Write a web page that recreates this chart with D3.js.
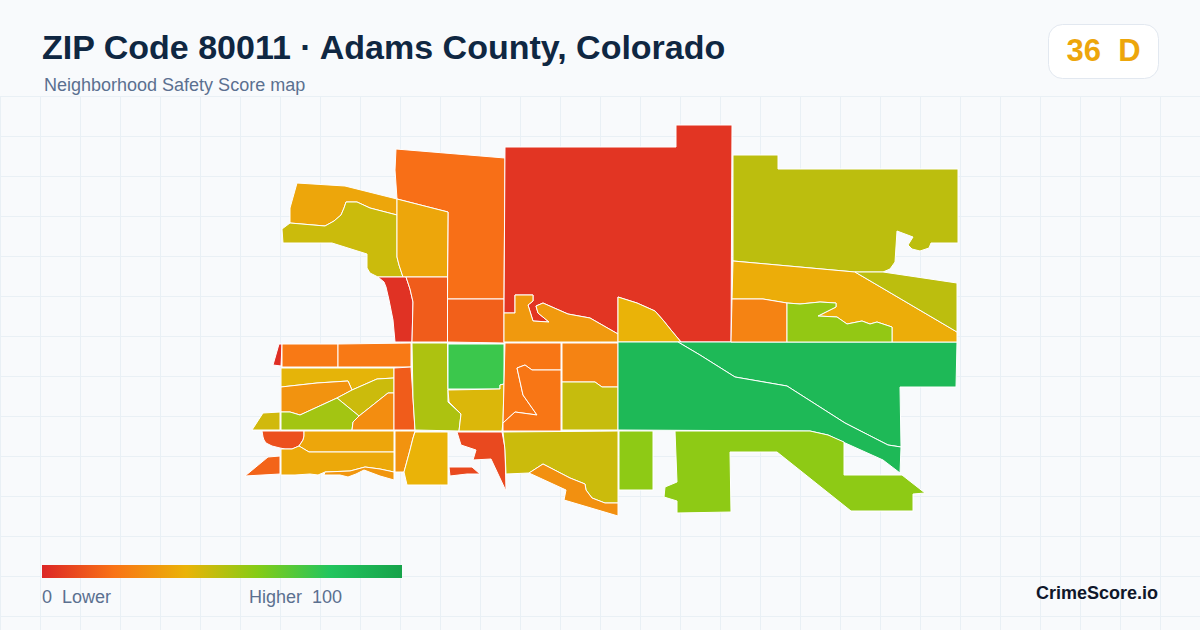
<!DOCTYPE html>
<html>
<head>
<meta charset="utf-8">
<title>ZIP Code 80011 safety map</title>
<script src="https://d3js.org/d3.v7.min.js"></script>
<style>
html, body {
	margin: 0;
	padding: 0;
	background: #f8fafc;
}
svg {
	display: block;
	font-family: "Liberation Sans", Arial, sans-serif;
}
</style>
</head>
<body>
<div id="canvas"></div>
<script>
	var titleText = "ZIP Code 80011 · Adams County, Colorado";
	var subtitleText = "Neighborhood Safety Score map";
	var overallScore = 36;
	var overallGrade = "D";

	// colour ramp for the safety score
	var scoreStops = [0, 20, 40, 60, 80, 100];
	var scoreColors = ["#dc2626", "#f97316", "#eab308", "#84cc16", "#22c55e", "#16a34a"];

	// score of each neighborhood, same order as tractRings
	var tractScores = [
		19, 36, 46, 36, 3, 14, 15, 4, 32, 40,
		2, 22, 22, 41, 30, 46, 54, 28, 45, 14,
		52, 75, 43, 11, 36, 37, 16, 31, 30, 40,
		9, 9, 21, 21, 25, 47, 46, 29, 58, 87,
		87, 58, 49, 38, 49, 25, 57
	];

	// neighborhood outlines in map units
	var tractRings = [
		[[396,149],[505,158],[504,299],[447.5,299],[448,212],[397,199],[395,170]],
		[[297,183],[345,186],[397,199],[397,215],[370,208],[357,202],[346,202],[344,208],[341,215],[334,221],[325,226],[290,223],[290,208]],
		[[282,229],[290,223],[325,226],[334,221],[341,215],[344,208],[346,202],[357,202],[370,208],[397,215],[397,257],[399,265],[403,277],[378,277],[370,273],[367,268],[367,254],[332,243],[283,243]],
		[[397,199],[448,212],[447.5,277],[403,277],[399,265],[397,257]],
		[[378,277],[406,277],[410,289],[413,302],[412,342],[395,342],[393,320],[389,300],[386,287],[384,282]],
		[[406,277],[447.5,277],[447.5,342],[412,342],[413,302],[410,289]],
		[[447.5,299],[504,299],[504,343],[447.5,342]],
		[[505,147],[676,147],[676,125],[732,125],[731,342],[681,342],[671,330],[663,320],[655,311],[637,303],[618,297],[618,334],[604,326],[590,318],[568,314],[552,307],[543,303],[536,306],[538,313],[549,322],[533,321],[528,305],[533,301],[533,295],[515,295],[515,313],[504,313]],
		[[504,313],[515,313],[515,295],[533,295],[533,301],[528,305],[533,321],[549,322],[538,313],[536,306],[543,303],[552,307],[568,314],[590,318],[604,326],[618,334],[618,342],[504,342]],
		[[618,297],[637,303],[655,311],[663,320],[671,330],[681,342],[618,342]],
		[[279,344],[282,344],[281,366],[273,365]],
		[[282,344],[338,344],[338,367],[282,367]],
		[[338,344],[411,343],[411,367],[338,367]],
		[[281,368],[394,368],[394,378],[377,379],[352,390],[348,381],[317,383],[281,387]],
		[[281,387],[317,383],[348,381],[352,390],[337,398],[300,415],[290,412],[281,412]],
		[[352,390],[377,379],[394,378],[394,393],[388,393],[359,416],[337,398]],
		[[281,412],[290,412],[300,415],[337,398],[359,416],[353,422],[352,430],[281,430]],
		[[359,416],[388,393],[394,393],[394,430],[352,430],[353,422]],
		[[263,413],[280,412],[280,430],[252,430]],
		[[394,368],[411,367],[413,398],[415,430],[394,430]],
		[[412,343],[447.5,343],[448,402],[461,414],[459,431],[415,430],[413,398]],
		[[448,344],[504,344],[504,384],[500,385],[500,389],[448,389]],
		[[448,390],[500,389],[500,385],[504,384],[503,422],[502,431],[459,431],[461,414],[449,402]],
		[[262,431],[304,431],[304,436],[303,440],[299,446],[292,449],[285,449],[280,448],[272,446],[266,443],[264,440],[263,437]],
		[[304,431],[394,431],[394,452],[309,452],[299,446],[303,440],[304,436]],
		[[281,449],[285,449],[292,449],[299,446],[309,452],[394,452],[394,472],[380,469],[365,467],[350,471],[325,472],[318,475],[310,474],[295,475],[281,475]],
		[[268,457],[280,456],[280,474],[245,476]],
		[[394,472],[380,469],[365,467],[350,471],[325,472],[324,475],[340,475],[348,477],[356,474],[364,470],[372,473],[380,476],[394,480]],
		[[395,431],[415,431],[413,438],[410,450],[404,472],[395,472]],
		[[415,432],[448,432],[448,485],[407,485],[404,472],[410,450],[413,438]],
		[[449,467],[472,467],[480,474],[467,474],[450,476]],
		[[457,432],[502,432],[505,448],[506,491],[491,459],[473,460],[476,450],[461,445]],
		[[505,343],[561,343],[561,370],[532,370],[525,365],[517,368],[523,395],[537,415],[515,412],[503,423]],
		[[561,370],[532,370],[525,365],[517,368],[523,395],[537,415],[515,412],[503,423],[503,431],[561,431]],
		[[562,343],[618,343],[618,387],[602,387],[595,382],[562,382]],
		[[562,382],[595,382],[602,387],[618,387],[618,430],[562,430]],
		[[503,432],[618,431],[618,503],[605,503],[592,498],[586,490],[585,484],[570,478],[543,464],[529,473],[506,474],[505,450]],
		[[529,473],[543,464],[570,478],[585,484],[586,490],[592,498],[605,503],[618,503],[618,516],[564,500],[566,490]],
		[[619,431],[653,431],[653,490],[619,490]],
		[[678,342],[957,342],[956,387],[900,387],[901,447],[888,445],[845,423],[787,386],[735,377],[700,355]],
		[[618,342],[678,342],[700,355],[735,377],[787,386],[845,423],[888,445],[901,447],[900,473],[883,460],[843,442],[828,435],[810,431],[618,430]],
		[[675,431],[810,431],[828,435],[844,442],[844,475],[902,475],[925,493],[913,494],[913,511],[851,511],[777,452],[730,452],[731,512],[677,513],[677,501],[664,497],[665,487],[677,482]],
		[[733,155],[778,155],[778,169],[958,169],[958,243],[931,243],[929,248],[920,251],[912,249],[908,245],[913,237],[897,231],[895,262],[890,269],[883,272],[855,272],[733,261]],
		[[733,261],[855,272],[957,332],[957,342],[892,342],[892,327],[877,322],[870,324],[862,321],[847,324],[837,317],[818,316],[836,307],[836,303],[820,302],[800,304],[787,303],[763,299],[732,299]],
		[[855,272],[883,272],[957,283],[957,332]],
		[[732,299],[763,299],[787,303],[787,342],[731,342]],
		[[787,303],[800,304],[820,302],[836,303],[836,307],[818,316],[837,317],[847,324],[862,321],[870,324],[877,322],[892,327],[892,342],[787,342]]
	];

	var legendTicks = ["0  Lower", "Higher  100"];

	var width = 1200, height = 630;

	var svg = d3.select("#canvas").append("svg")
		.attr("width", width)
		.attr("height", height)
		.attr("viewBox", [0, 0, width, height]);

	var colorScale = d3.scaleLinear().domain(scoreStops).range(scoreColors);

	// map units line up with the page
	var x = d3.scaleLinear().domain([0, 1200]).range([0, width]);
	var y = d3.scaleLinear().domain([0, 630]).range([0, height]);
	var outline = d3.line().x(d => x(d[0])).y(d => y(d[1])).curve(d3.curveLinearClosed);

	svg.append("rect")
		.attr("width", width)
		.attr("height", height)
		.attr("fill", "#f8fafc");

	// background grid below the header
	var grid = svg.append("g")
		.attr("stroke", "#e9f0f5")
		.attr("stroke-width", 1);
	grid.selectAll("line.v")
		.data(d3.range(0, width + 1, 40))
		.join("line")
		.attr("class", "v")
		.attr("x1", d => d + 0.5).attr("x2", d => d + 0.5)
		.attr("y1", 96).attr("y2", height);
	grid.selectAll("line.h")
		.data(d3.range(96, height + 1, 40))
		.join("line")
		.attr("class", "h")
		.attr("x1", 0).attr("x2", width)
		.attr("y1", d => d + 0.5).attr("y2", d => d + 0.5);

	svg.append("g")
		.attr("stroke", "#fff")
		.attr("stroke-width", 1)
		.attr("stroke-linejoin", "round")
		.selectAll("path")
		.data(tractRings)
		.join("path")
		.attr("d", d => outline(d))
		.attr("fill", (d, i) => colorScale(tractScores[i]));

	// header
	svg.append("text")
		.attr("x", 42).attr("y", 59)
		.attr("font-size", 34).attr("font-weight", 700)
		.attr("fill", "#0f2742")
		.text(titleText);
	svg.append("text")
		.attr("x", 44).attr("y", 91)
		.attr("font-size", 18)
		.attr("fill", "#5b7090")
		.text(subtitleText);

	// score badge
	svg.append("rect")
		.attr("x", 1048.5).attr("y", 24.5)
		.attr("width", 110).attr("height", 54)
		.attr("rx", 14)
		.attr("fill", "#fff")
		.attr("stroke", "#e2e8f0");
	svg.append("text")
		.attr("x", 1103.5).attr("y", 61)
		.attr("text-anchor", "middle")
		.style("white-space", "pre")
		.attr("font-size", 31).attr("font-weight", 700)
		.attr("fill", colorScale(overallScore))
		.text(overallScore + "  " + overallGrade);

	// legend bar
	var legendScale = d3.scaleLinear().domain([0, 100]).range([42, 402]);
	var gradient = svg.append("defs").append("linearGradient")
		.attr("id", "legend-ramp");
	gradient.selectAll("stop")
		.data(scoreStops)
		.join("stop")
		.attr("offset", d => d + "%")
		.attr("stop-color", d => colorScale(d));
	svg.append("rect")
		.attr("x", legendScale(0)).attr("y", 565)
		.attr("width", legendScale(100) - legendScale(0)).attr("height", 13)
		.attr("fill", "url(#legend-ramp)");

	svg.selectAll("text.legend")
		.data(legendTicks)
		.join("text")
		.attr("class", "legend")
		.attr("x", (d, i) => i == 0 ? 42 : 249)
		.attr("y", 603)
		.attr("font-size", 18)
		.attr("fill", "#5b7090")
		.style("white-space", "pre")
		.text(d => d);

	svg.append("text")
		.attr("x", 1158).attr("y", 599)
		.attr("text-anchor", "end")
		.attr("font-size", 18).attr("font-weight", 700)
		.attr("fill", "#0f172a")
		.text("CrimeScore.io");
</script>
</body>
</html>
